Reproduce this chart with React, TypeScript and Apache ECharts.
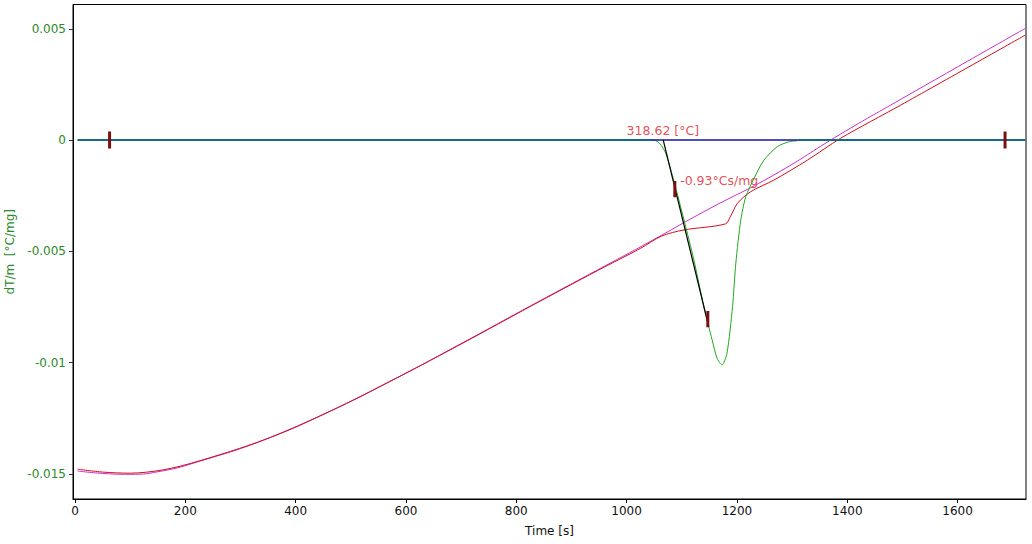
import React, { useEffect, useRef } from "react";
import * as echarts from "echarts";

// ---- data ----
const xTicks = [0, 200, 400, 600, 800, 1000, 1200, 1400, 1600];
const yTicks = [-0.015, -0.01, -0.005, 0, 0.005];

const magentaT = [4.7, 50, 100, 160, 221, 342, 463, 584, 705, 826, 947, 1037, 1146, 1267, 1388, 1497, 1723];
const magentaV = [-0.01487, -0.01498, -0.01502, -0.01486, -0.01447, -0.01348, -0.01218, -0.01068, -0.00908, -0.00745, -0.00584, -0.00464, -0.00314, -0.00157, 0.00027, 0.00183, 0.00502];

const redT = [4.7, 50, 100, 160, 221, 342, 463, 584, 705, 826, 947, 1025, 1063, 1104, 1179, 1188, 1201, 1225, 1267, 1328, 1388, 1497, 1723];
const redV = [-0.01479, -0.01492, -0.01497, -0.01482, -0.01445, -0.01348, -0.01218, -0.01068, -0.0091, -0.00747, -0.00587, -0.00487, -0.00432, -0.00404, -0.00377, -0.00345, -0.00284, -0.00232, -0.0018, -0.0009, 0.00008, 0.00157, 0.00472];

const greenT = [4.7, 1049, 1060, 1071, 1086, 1104, 1122, 1140, 1155, 1164, 1173, 1182, 1192, 1198, 1207, 1216, 1231, 1249, 1273, 1294, 1309, 1325, 1723];
const greenV = [0, 0, -0.00015, -0.0006, -0.00187, -0.00359, -0.00539, -0.00749, -0.00898, -0.00981, -0.01011, -0.00957, -0.00749, -0.00553, -0.00359, -0.00255, -0.00172, -0.0009, -0.0003, -0.00008, -0.00003, 0, 0];

const baseLeftT = [4.7, 1044];
const baseRightT = [1310, 1723];
const navyT = [1044, 1310];
const tangentT = [1066.4, 1149];
const tangentV = [0, -0.00839];

const markerT = [62.7, 1686, 1087.4, 1147.2];
const markerTop = [0.00038, 0.00038, -0.00184, -0.00768];
const markerBottom = [-0.00038, -0.00038, -0.00257, -0.00841];

const annotT = [1000, 1097];
const annotV = [0.00042, -0.00183];
const annotText = ["318.62 [°C]", "-0.93°Cs/mg"];

const zip = (a: number[], b: number[]) => a.map((t, i) => [t, b[i]]);

export default function App() {
  const ref = useRef<HTMLDivElement>(null);
  useEffect(() => {
    if (!ref.current) return;
    const chart = echarts.init(ref.current, null, { renderer: "svg" });
    const font = "DejaVu Sans";
    const lineSeries = (data: number[][], color: string, width: number, extra: any = {}) => ({
      type: "line",
      data,
      showSymbol: false,
      symbol: "none",
      silent: true,
      lineStyle: { color, width },
      ...extra,
    });
    const series: any[] = [
      lineSeries(zip(magentaT, magentaV), "#cc2ccc", 1, { smooth: 0.5 }),
      lineSeries(zip(redT, redV), "#cc1020", 1, { smooth: 0.3 }),
      lineSeries(zip(greenT, greenV), "#22a822", 1, { smooth: 0.25 }),
      lineSeries(baseLeftT.map((t) => [t, 0]), "#17668c", 2),
      lineSeries(baseRightT.map((t) => [t, 0]), "#17668c", 2),
      lineSeries(navyT.map((t) => [t, 0]), "#1414a0", 1.5),
      lineSeries(zip(tangentT, tangentV), "#000000", 1.2),
    ];
    markerT.forEach((t, i) => {
      series.push(lineSeries([[t, markerTop[i]], [t, markerBottom[i]]], "#7a1010", 3));
    });
    series.push({
      type: "scatter",
      symbolSize: 0,
      silent: true,
      data: zip(annotT, annotV).map((p, i) => ({ value: p, name: annotText[i] })),
      label: {
        show: true,
        position: [0, 0],
        align: "left",
        verticalAlign: "middle",
        formatter: (p: any) => p.name,
        color: "#e0202a",
        fontSize: 12.5,
        fontFamily: font,
      },
    });
    chart.setOption({
      animation: false,
      textStyle: { fontFamily: font },
      grid: { left: 73, right: 6, top: 4.5, bottom: 45, show: true, borderColor: "#000", borderWidth: 1, backgroundColor: "#fff", outerBoundsMode: "none" },
      xAxis: {
        type: "value",
        min: -3.6,
        max: 1724,
        name: "Time [s]",
        nameLocation: "middle",
        nameGap: 26,
        nameTextStyle: { color: "#111", fontSize: 12, fontFamily: font },
        axisLine: { onZero: false, lineStyle: { color: "#000", width: 1 } },
        axisTick: { show: true, length: 4, customValues: xTicks, lineStyle: { color: "#000" } },
        axisLabel: { customValues: xTicks, color: "#111", fontSize: 12, margin: 6, fontFamily: font, formatter: (v: number) => String(v) },
        splitLine: { show: false },
      },
      yAxis: {
        type: "value",
        min: -0.01613,
        max: 0.00609,
        name: "dT/m  [°C/mg]",
        nameLocation: "middle",
        nameRotate: 90,
        nameGap: 52,
        nameTextStyle: { color: "#2b8a2b", fontSize: 12, fontFamily: font },
        axisLine: { show: true, onZero: false, lineStyle: { color: "#000", width: 1 } },
        axisTick: { show: true, length: 4, customValues: yTicks, lineStyle: { color: "#333" } },
        axisLabel: { customValues: yTicks, color: "#2b8a2b", fontSize: 12, margin: 7, fontFamily: font, formatter: (v: number) => String(v) },
        splitLine: { show: false },
      },
      series,
    });
    return () => chart.dispose();
  }, []);
  return <div ref={ref} style={{ position: "fixed", left: 0, top: 0, width: 1032, height: 544, background: "#fff" }} />;
}
